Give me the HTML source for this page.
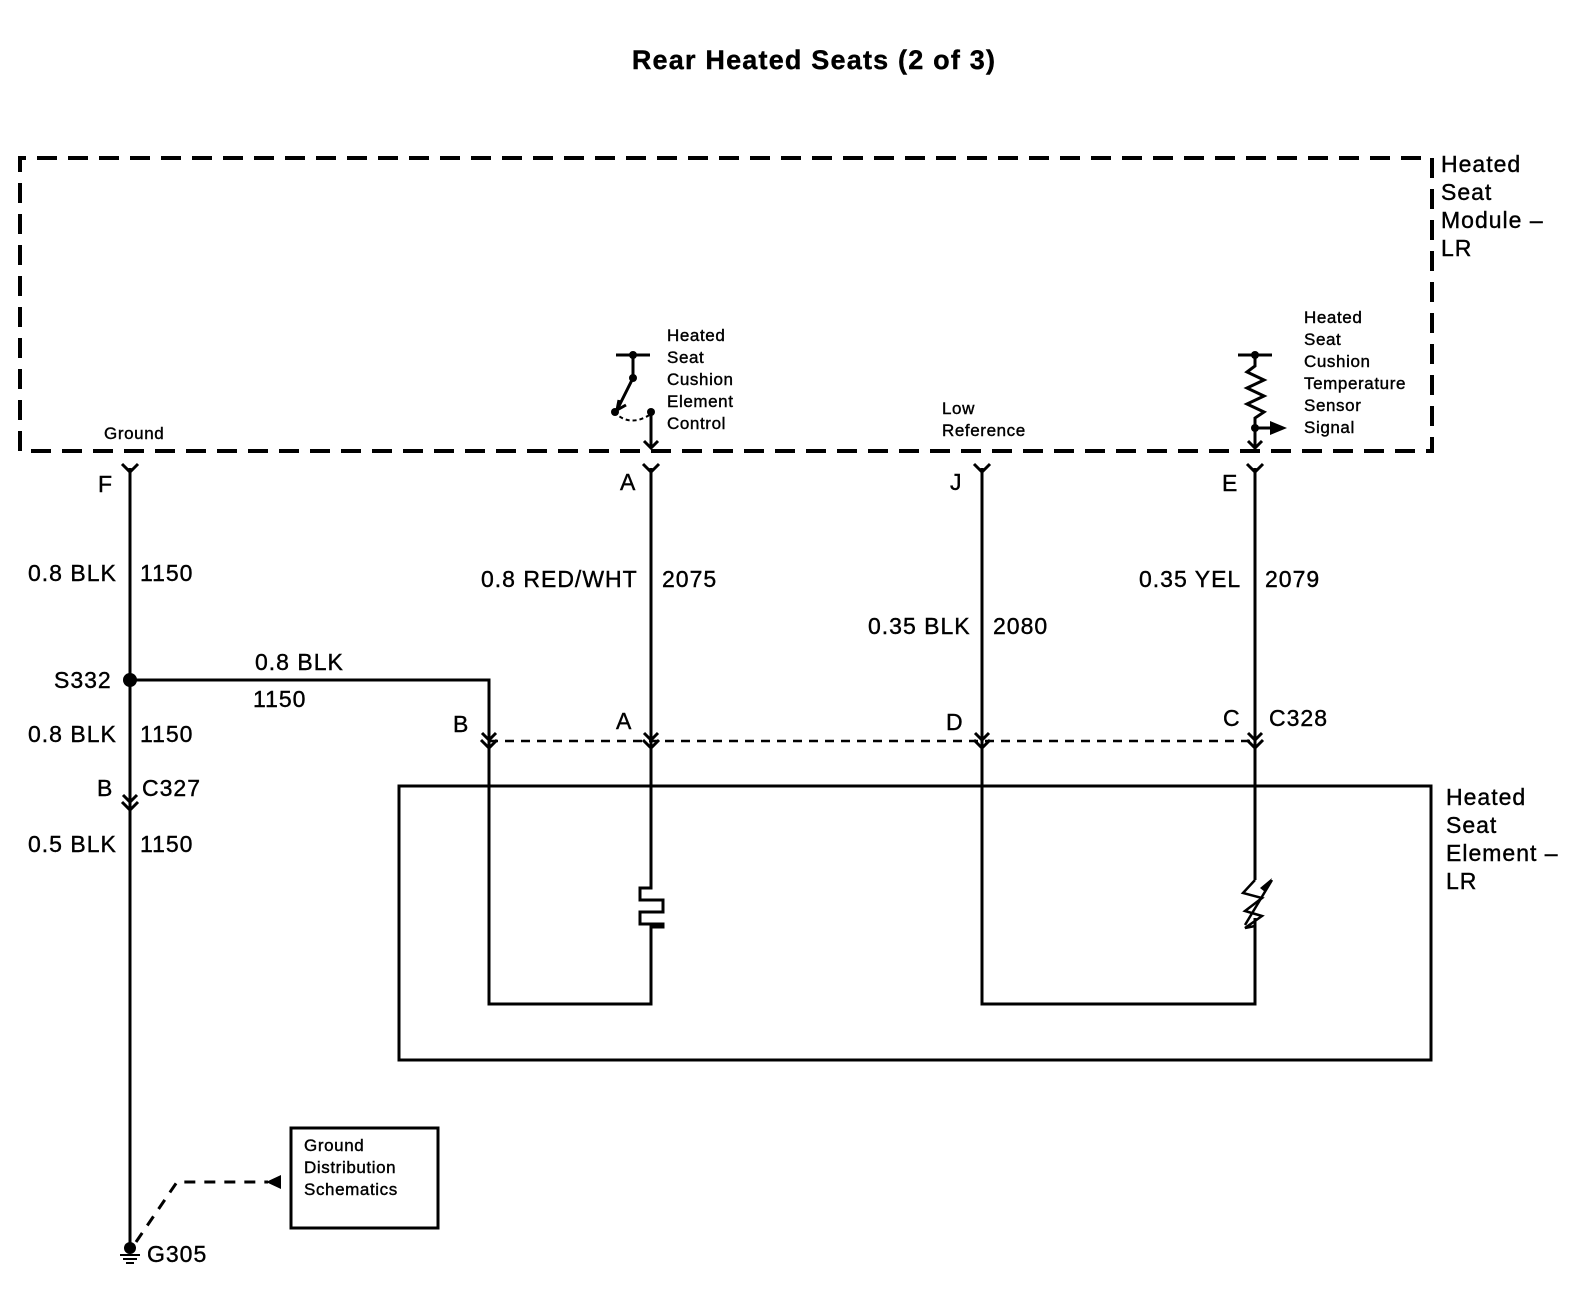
<!DOCTYPE html>
<html><head><meta charset="utf-8"><style>
html,body{margin:0;padding:0;background:#fff;}
svg{display:block;}
text{font-family:"Liberation Sans",Arial,sans-serif;fill:#000;stroke:#000;stroke-width:0.4;}
.b{font-size:23px;letter-spacing:1px;}
.s{font-size:17px;letter-spacing:0.6px;}
</style></head><body>
<svg width="1572" height="1312" viewBox="0 0 1572 1312" xmlns="http://www.w3.org/2000/svg">
<defs>
<g id="fork"><path d="M-8,-8 L0,0 L8,-8 M0,0 V8" fill="none" stroke="#000" stroke-width="3"/></g>
<g id="chev"><path d="M-7,-7 L0,0 L7,-7" fill="none" stroke="#000" stroke-width="3"/></g>
</defs>
<text x="814" y="69" text-anchor="middle" font-size="27" font-weight="bold" letter-spacing="1.2">Rear Heated Seats (2 of 3)</text>

<path d="M20,451 V158 H1432 V451 Z" fill="none" stroke="#000" stroke-width="4" stroke-dasharray="20,11"/>
<text class="b" x="1441" y="172">Heated</text>
<text class="b" x="1441" y="200">Seat</text>
<text class="b" x="1441" y="228">Module –</text>
<text class="b" x="1441" y="256">LR</text>

<text class="s" x="104" y="439">Ground</text>
<text class="s" x="667" y="341">Heated</text>
<text class="s" x="667" y="363">Seat</text>
<text class="s" x="667" y="385">Cushion</text>
<text class="s" x="667" y="407">Element</text>
<text class="s" x="667" y="429">Control</text>
<text class="s" x="942" y="414">Low</text>
<text class="s" x="942" y="436">Reference</text>
<text class="s" x="1304" y="323">Heated</text>
<text class="s" x="1304" y="345">Seat</text>
<text class="s" x="1304" y="367">Cushion</text>
<text class="s" x="1304" y="389">Temperature</text>
<text class="s" x="1304" y="411">Sensor</text>
<text class="s" x="1304" y="433">Signal</text>

<g stroke="#000" stroke-width="3" fill="none">
<path d="M616,355 H650 M633,355 V378 L617,410"/>
<path d="M614,412 Q630,428 651,414" stroke-dasharray="4,3" stroke-width="2"/>
<path d="M651,412 V448 M644,441 L651,448 L658,441"/>
<path d="M617,410 l2,-10 M617,410 l9,-5"/>
</g>
<circle cx="633" cy="355" r="4"/><circle cx="633" cy="378" r="4"/><circle cx="615" cy="412" r="4"/><circle cx="651" cy="412" r="4"/>

<g stroke="#000" stroke-width="3" fill="none">
<path d="M1238,355 H1272 M1255,355 V366 L1247,372 L1264,380 L1247,388 L1264,396 L1247,404 L1264,412 L1255,418 V448 M1248,441 L1255,448 L1262,441 M1255,428 H1272"/>
</g>
<circle cx="1255" cy="355" r="4"/><circle cx="1255" cy="428" r="4"/>
<path d="M1270,421 L1287,428 L1270,435 Z"/>

<g stroke="#000" stroke-width="3" fill="none">
<path d="M130,468 V1248"/>
<path d="M651,468 V888 H640 V900 H663 V912 H640 V924 H663 V927 H651 V1004 H489 V680 H130"/>
<path d="M982,468 V1004 H1255 V918"/>
<path d="M1255,468 V880"/>
<path d="M1255,880 L1243,893 L1262,898 L1245,911 L1262,916 L1245,928 L1255,926" stroke-width="2.5"/>
<path d="M1245,925 L1272,880" stroke-width="2.5"/>
</g>
<path d="M1272,878 L1265,892 L1260,888 Z"/>
<circle cx="130" cy="680" r="7"/>

<use href="#fork" x="130" y="472"/><use href="#fork" x="651" y="472"/><use href="#fork" x="982" y="472"/><use href="#fork" x="1255" y="472"/>
<text class="b" x="98" y="492">F</text>
<text class="b" x="620" y="490">A</text>
<text class="b" x="950" y="490">J</text>
<text class="b" x="1222" y="491">E</text>

<line x1="489" y1="741" x2="1255" y2="741" stroke="#000" stroke-width="2.5" stroke-dasharray="9,7"/>
<use href="#chev" x="489" y="740"/><use href="#fork" x="489" y="748"/>
<use href="#chev" x="651" y="740"/><use href="#fork" x="651" y="748"/>
<use href="#chev" x="982" y="740"/><use href="#fork" x="982" y="748"/>
<use href="#chev" x="1255" y="740"/><use href="#fork" x="1255" y="748"/>
<text class="b" x="453" y="732">B</text>
<text class="b" x="616" y="729">A</text>
<text class="b" x="946" y="730">D</text>
<text class="b" x="1223" y="726">C</text>
<text class="b" x="1269" y="726">C328</text>

<use href="#chev" x="130" y="802"/><use href="#fork" x="130" y="810"/>
<text class="b" x="97" y="796">B</text>
<text class="b" x="142" y="796">C327</text>

<text class="b" x="28" y="581">0.8 BLK</text><text class="b" x="140" y="581">1150</text>
<text class="b" x="54" y="688">S332</text>
<text class="b" x="255" y="670">0.8 BLK</text>
<text class="b" x="253" y="707">1150</text>
<text class="b" x="28" y="742">0.8 BLK</text><text class="b" x="140" y="742">1150</text>
<text class="b" x="28" y="852">0.5 BLK</text><text class="b" x="140" y="852">1150</text>
<text class="b" x="481" y="587">0.8 RED/WHT</text><text class="b" x="662" y="587">2075</text>
<text class="b" x="868" y="634">0.35 BLK</text><text class="b" x="993" y="634">2080</text>
<text class="b" x="1139" y="587">0.35 YEL</text><text class="b" x="1265" y="587">2079</text>

<rect x="399" y="786" width="1032" height="274" fill="none" stroke="#000" stroke-width="3"/>
<text class="b" x="1446" y="805">Heated</text>
<text class="b" x="1446" y="833">Seat</text>
<text class="b" x="1446" y="861">Element –</text>
<text class="b" x="1446" y="889">LR</text>

<circle cx="130" cy="1248" r="6"/>
<path d="M120,1255 H140 M123,1259 H137 M126,1263 H134" stroke="#000" stroke-width="2"/>
<text class="b" x="147" y="1262">G305</text>
<path d="M136,1242 L177,1182 H268" fill="none" stroke="#000" stroke-width="3" stroke-dasharray="11,9"/>
<path d="M266,1182 L281,1175 V1189 Z"/>
<rect x="291" y="1128" width="147" height="100" fill="none" stroke="#000" stroke-width="3"/>
<text class="s" x="304" y="1151">Ground</text>
<text class="s" x="304" y="1173">Distribution</text>
<text class="s" x="304" y="1195">Schematics</text>
</svg>
</body></html>
